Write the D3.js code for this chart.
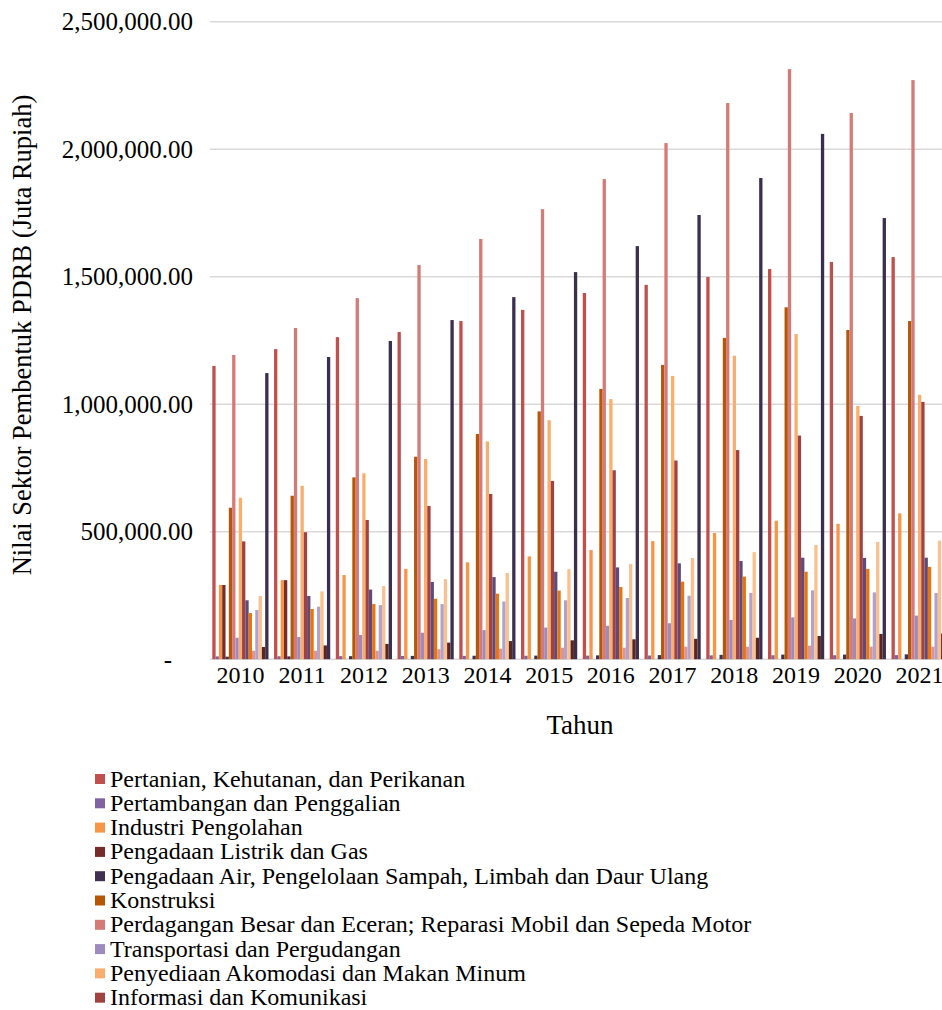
<!DOCTYPE html>
<html>
<head>
<meta charset="utf-8">
<script src="https://cdn.jsdelivr.net/npm/d3@7"></script>
<style>
  html, body { margin: 0; padding: 0; background: #fff; overflow: hidden; }
  svg { display: block; }
  svg text { font-family: "Liberation Serif", "Times New Roman", serif; fill: #000; }
</style>
</head>
<body>
<svg id="chart" width="942" height="1010"></svg>
<script>
// Years on the category axis
const years = ["2010","2011","2012","2013","2014","2015","2016","2017","2018","2019","2020","2021"];

// Sector names (legend order = bar order inside each year)
const sectors = [
  "Pertanian, Kehutanan, dan Perikanan",
  "Pertambangan dan Penggalian",
  "Industri Pengolahan",
  "Pengadaan Listrik dan Gas",
  "Pengadaan Air, Pengelolaan Sampah, Limbah dan Daur Ulang",
  "Konstruksi",
  "Perdagangan Besar dan Eceran; Reparasi Mobil dan Sepeda Motor",
  "Transportasi dan Pergudangan",
  "Penyediaan Akomodasi dan Makan Minum",
  "Informasi dan Komunikasi",
  "Jasa Keuangan dan Asuransi",
  "Real Estate",
  "Jasa Perusahaan",
  "Administrasi Pemerintahan, Pertahanan dan Jaminan Sosial Wajib",
  "Jasa Pendidikan",
  "Jasa Kesehatan dan Kegiatan Sosial",
  "Jasa lainnya"
];

// Values per sector, 2010..2021 (Juta Rupiah)
const pertanian      = [1150000,1216000,1263000,1283000,1326000,1370000,1436000,1468000,1499000,1530000,1558000,1577000];
const pertambangan   = [11000,11500,12000,12500,13000,13500,14000,14500,15000,15500,15500,16000];
const industri       = [291000,310000,330000,354000,380000,403000,428000,463000,495000,543000,531000,572000];
const listrik        = [291000,310000,0,0,0,0,0,0,0,0,0,0];
const air            = [10000,11000,12000,13000,13500,14000,15000,16000,17000,18000,18000,19000];
const konstruksi     = [594000,641000,713000,794000,883000,972000,1060000,1154000,1260000,1380000,1291000,1326000];
const perdagangan    = [1193000,1299000,1416000,1546000,1648000,1765000,1883000,2024000,2181000,2314000,2142000,2271000];
const transportasi   = [84000,87000,95000,104000,114000,124000,131000,141000,154000,164000,160000,171000];
const akomodasi      = [633000,680000,729000,785000,854000,937000,1020000,1111000,1190000,1275000,993000,1037000];
const informasi      = [462000,498000,546000,601000,648000,699000,741000,779000,820000,877000,954000,1009000];
const keuangan       = [231000,248000,273000,303000,322000,343000,360000,376000,385000,398000,397000,398000];
const realEstate     = [181000,197000,216000,237000,257000,269000,283000,304000,324000,343000,354000,362000];
const jasaPerusahaan = [33000,33000,33000,39000,41000,45000,45000,49000,49000,53000,49000,49000];
const administrasi   = [193000,206000,212000,216000,226000,231000,240000,249000,260000,270000,262000,260000];
const pendidikan     = [248000,266000,287000,314000,338000,353000,373000,397000,420000,448000,460000,465000];
const kesehatan      = [48000,54000,60000,65000,71000,74000,78000,80000,84000,91000,99000,101000];
const jasaLainnya    = [1122000,1185000,1248000,1330000,1420000,1518000,1620000,1742000,1887000,2060000,1730000,1800000];

const seriesValues = [pertanian, pertambangan, industri, listrik, air, konstruksi, perdagangan,
  transportasi, akomodasi, informasi, keuangan, realEstate, jasaPerusahaan, administrasi,
  pendidikan, kesehatan, jasaLainnya];

const colors = ["#C0504D","#8064A2","#F79646","#772C2A","#403152","#B65708","#D47B78",
  "#9D8BBF","#FAAE6E","#A04240","#604A7B","#E9730D","#DA9694","#B3A2C7","#FAC090","#5A2620","#3B2F50"];

// Y axis ticks
const yTicks = [0, 500000, 1000000, 1500000, 2000000, 2500000];

const svg = d3.select("#chart");

const plot = { left: 210, right: 950, top: 21.7, bottom: 659.2 };

const x0 = d3.scaleBand().domain(years).range([plot.left, plot.right])
  .paddingInner(0.09).paddingOuter(0.0373);
const x1 = d3.scaleBand().domain(d3.range(sectors.length)).range([0, x0.bandwidth()]);
const y = d3.scaleLinear().domain([0, 2500000]).range([plot.bottom, plot.top]);

// Horizontal gridlines
svg.append("g").selectAll("line").data(yTicks).join("line")
  .attr("x1", plot.left).attr("x2", plot.right + 2)
  .attr("y1", d => y(d)).attr("y2", d => y(d))
  .attr("stroke", "#D9D9D9").attr("stroke-width", 1.5);

// Bars
const groups = svg.append("g").selectAll("g").data(years).join("g")
  .attr("transform", d => `translate(${x0(d)},0)`);
groups.selectAll("rect")
  .data((yr, i) => seriesValues.map((vals, s) => ({ s, v: vals[i] })))
  .join("rect")
  .attr("x", d => x1(d.s))
  .attr("width", x1.bandwidth())
  .attr("y", d => y(d.v))
  .attr("height", d => y(0) - y(d.v))
  .attr("fill", d => colors[d.s]);

// Y axis labels (accounting style, zero shown as a dash)
const fmt = d3.format(",.2f");
const yAxis = svg.append("g").attr("transform", `translate(${plot.left},0)`)
  .call(d3.axisLeft(y).tickValues(yTicks).tickSize(0).tickPadding(17)
    .tickFormat(d => d === 0 ? "-" : fmt(d)));
yAxis.attr("font-family", null).attr("font-size", null);
yAxis.select(".domain").remove();
yAxis.selectAll("text").attr("font-size", 25);
yAxis.selectAll(".tick").filter(d => d === 0).select("text").attr("dx", -21);

// X axis labels
const xAxis = svg.append("g").attr("transform", `translate(0,${plot.bottom})`)
  .call(d3.axisBottom(x0).tickSize(0).tickPadding(7));
xAxis.attr("font-family", null).attr("font-size", null);
xAxis.select(".domain").remove();
xAxis.selectAll("text").attr("font-size", 24);

// Axis titles
svg.append("text")
  .attr("transform", "translate(31,335) rotate(-90)")
  .attr("text-anchor", "middle").attr("font-size", 26.5)
  .text("Nilai Sektor Pembentuk PDRB (Juta Rupiah)");
svg.append("text")
  .attr("x", 580).attr("y", 734)
  .attr("text-anchor", "middle").attr("font-size", 27)
  .text("Tahun");

// Legend (one entry per row)
const legend = svg.append("g").attr("transform", "translate(95,779)");
const rows = legend.selectAll("g").data(sectors).join("g")
  .attr("transform", (d, i) => `translate(0,${i * 24.3})`);
rows.append("rect").attr("x", 0).attr("y", -5).attr("width", 10).attr("height", 10)
  .attr("fill", (d, i) => colors[i]);
rows.append("text").attr("x", 15).attr("y", 7.5)
  .attr("font-size", 24).text(d => d);
</script>
</body>
</html>
